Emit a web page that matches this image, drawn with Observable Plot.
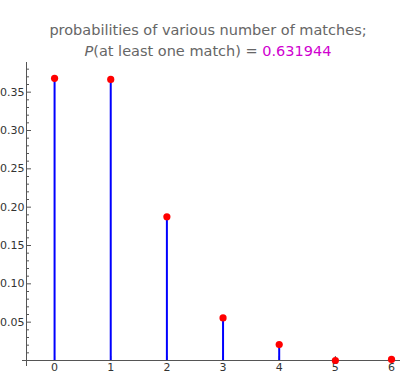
<!DOCTYPE html>
<html>
<head>
<meta charset="utf-8">
<script src="https://cdn.jsdelivr.net/npm/d3@7"></script>
<script src="https://cdn.jsdelivr.net/npm/@observablehq/plot@0.6"></script>
<style>
  body { margin: 0; background: #fff; }
  #title { width: 400px; height: 60px; box-sizing: border-box; padding-top: 20px; padding-left: 16px;
    text-align: center; font-family: "DejaVu Sans", sans-serif; font-size: 14.5px; line-height: 20.5px; color: #666; }
  #title .v { color: #d000d0; }
  svg { display: block; }
</style>
</head>
<body>
<div id="title">probabilities of various number of matches;<br><i>P</i>(at least one match) = <span class="v">0.631944</span></div>
<div id="chart"></div>
<script>
const matches = [0, 1, 2, 3, 4, 5, 6];
const probs = [0.368056, 0.366667, 0.1875, 0.055556, 0.020833, 0, 0.001389];
const yMajorTicks = [0.05, 0.10, 0.15, 0.20, 0.25, 0.30, 0.35];
const yMinorTicks = [0.01,0.02,0.03,0.04,0.06,0.07,0.08,0.09,0.11,0.12,0.13,0.14,0.16,0.17,0.18,0.19,0.21,0.22,0.23,0.24,0.26,0.27,0.28,0.29,0.31,0.32,0.33,0.34,0.36,0.37,0.38];
const xTicks = [0, 1, 2, 3, 4, 5, 6];
const xDomain = [-0.5, 6.16];
const yDomain = [0, 0.3887];

const data = matches.map((k, i) => ({k, p: probs[i]}));
const axisColor = "#555";

const chart = Plot.plot({
  width: 400,
  height: 317,
  marginLeft: 26,
  marginRight: 0,
  marginTop: 2,
  marginBottom: 17,
  style: {fontFamily: "DejaVu Sans, sans-serif", fontSize: "11px", color: "#333", background: "#fff"},
  x: {domain: xDomain, axis: null},
  y: {domain: yDomain, axis: null},
  marks: [
    Plot.axisY(yMajorTicks, {tickSize: -5, tickPadding: 7, tickFormat: d3.format(".2f"), stroke: axisColor, label: null, fontSize: 11}),
    Plot.axisY(yMinorTicks, {tickSize: -3, text: null, stroke: axisColor, label: null}),
    Plot.axisX(xTicks, {tickSize: -4, tickPadding: 7, stroke: axisColor, label: null, fontSize: 11}),
    Plot.ruleY([0], {stroke: axisColor, insetLeft: -4}),
    Plot.ruleX([xDomain[0]], {stroke: axisColor, insetBottom: -6}),
    Plot.ruleX(data, {x: "k", y1: 0, y2: "p", stroke: "#0000ff", strokeWidth: 2}),
    Plot.dot(data, {x: "k", y: "p", fill: "#ff0000", stroke: "none", r: 3.6})
  ]
});
document.getElementById("chart").appendChild(chart);
</script>
</body>
</html>
